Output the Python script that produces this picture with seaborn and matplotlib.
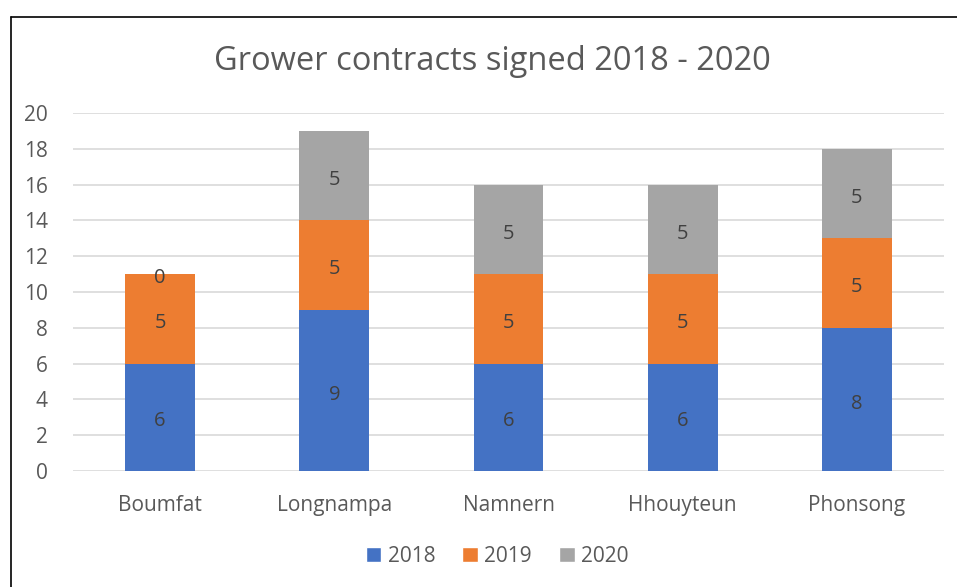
import pandas as pd
import matplotlib.pyplot as plt
import seaborn as sns
from matplotlib.lines import Line2D
from matplotlib.patches import Patch
from matplotlib.transforms import offset_copy

# chart data
villages = ['Boumfat', 'Longnampa', 'Namnern', 'Hhouyteun', 'Phonsong']
years = ['2018', '2019', '2020']
c2018 = [6, 9, 6, 6, 8]
c2019 = [5, 5, 5, 5, 5]
c2020 = [0, 5, 5, 5, 5]

colors = {'2018': '#4472C4', '2019': '#ED7D31', '2020': '#A5A5A5'}
text_col = '#595959'

df = pd.DataFrame({'village': villages, '2018': c2018, '2019': c2019, '2020': c2020})

sns.set_style('white')
plt.rcParams['font.family'] = ['Open Sans', 'DejaVu Sans']

fig = plt.figure(figsize=(9.57, 5.87), dpi=100)
ax = fig.add_axes([73 / 957, 1 - 471 / 587, (944 - 73) / 957, (471 - 113) / 587])

# labels sit a touch below the segment centre, like Excel does
lbl_tr = offset_copy(ax.transData, fig=fig, y=-3, units='points')

bottom = [0] * len(villages)
for yr in years:
    sns.barplot(data=df, x='village', y=yr, color=colors[yr], bottom=bottom,
                width=0.4, saturation=1, ax=ax, zorder=3, linewidth=0)
    for i, v in enumerate(df[yr]):
        ax.text(i, bottom[i] + v / 2, str(v), ha='center', va='center',
                fontsize=14.5, color='#404040', zorder=4, transform=lbl_tr)
    bottom = [b + v for b, v in zip(bottom, df[yr])]

ax.set_ylim(0, 20)
ax.set_yticks(range(0, 21, 2))
ax.set_xlim(-0.5, len(villages) - 0.5)
ax.yaxis.grid(True, color='#D9D9D9', linewidth=1.2, zorder=0)
ax.set_xlabel('')
ax.set_ylabel('')
for s in ax.spines.values():
    s.set_visible(False)
ax.tick_params(axis='y', length=0, pad=18, labelsize=15, labelcolor=text_col)
ax.tick_params(axis='x', length=0, pad=17, labelsize=15, labelcolor=text_col)

fig.text(492 / 957, 1 - 61 / 587, 'Grower contracts signed 2018 - 2020',
         ha='center', va='center', fontsize=23.5, color=text_col)

handles = [Patch(facecolor=colors[yr], label=yr) for yr in years]
fig.legend(handles=handles, loc='center', bbox_to_anchor=(497 / 957, 1 - 556 / 587),
           ncol=3, frameon=False, fontsize=15, handlelength=0.75, handleheight=0.75,
           handletextpad=0.3, columnspacing=1.3, labelcolor=text_col)

# chart border (left and top edges visible)
fig.add_artist(Line2D([11 / 957, 11 / 957], [0, 1 - 16.5 / 587], color='black', lw=1.2,
                      transform=fig.transFigure))
fig.add_artist(Line2D([11 / 957, 1], [1 - 16.5 / 587, 1 - 16.5 / 587], color='black', lw=1.2,
                      transform=fig.transFigure))

fig.savefig('out.png', dpi=100)
